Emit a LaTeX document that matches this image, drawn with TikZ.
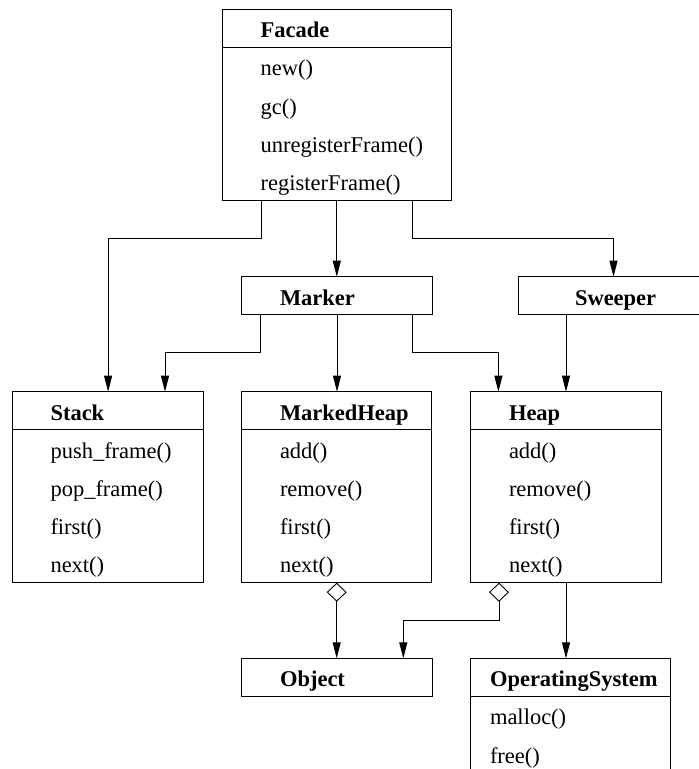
\documentclass[tikz,border=0pt]{standalone}
\usepackage{fontspec}
\setmainfont{Liberation Serif}
\usetikzlibrary{arrows.meta}
\tikzset{
  box/.style={draw, line width=0.9pt, anchor=north west, inner sep=0pt, outer sep=0pt, minimum height=38.2pt},
  lbl/.style={anchor=base west, inner sep=0pt, outer sep=0pt, font=\fontsize{22.5}{27}\selectfont},
  ttl/.style={anchor=base west, inner sep=0pt, outer sep=0pt, font=\fontsize{22.5}{27}\selectfont\bfseries},
  sep/.style={line width=0.9pt},
  arr/.style={draw, line width=0.9pt, -{Triangle[length=16pt,width=8pt]}},
  agg/.style={draw, line width=0.9pt, {Diamond[open,length=19pt,width=20pt]}-{Triangle[length=16pt,width=8pt]}}
}
\begin{document}
\begin{tikzpicture}[x=1pt,y=-1pt]
\useasboundingbox (0,0) rectangle (699,769);
\clip (0,0) rectangle (699,769);

% Facade
\node[box, minimum width=229pt, minimum height=191pt] (facade) at (222.3,9.3) {};
\draw[sep] (222.3,47.5) -- (451.3,47.5);
\node[ttl] (facadeT) at (260.7,37.6) {Facade};
\node[lbl] (facade1) at (260.7,75.8) {new()};
\node[lbl] (facade2) at (260.7,114.0) {gc()};
\node[lbl] (facade3) at (260.7,152.2) {unregisterFrame()};
\node[lbl] (facade4) at (260.7,190.4) {registerFrame()};

% Marker
\node[box, minimum width=190.6pt, minimum height=37.8pt] (marker) at (241.7,276.7) {};
\node[ttl] (markerT) at (280,305) {Marker};

% Sweeper
\node[box, minimum width=191pt, minimum height=37.8pt] (sweeper) at (518,276.7) {};
\node[ttl] (sweeperT) at (575,305) {Sweeper};

% Stack
\node[box, minimum width=191.2pt, minimum height=191pt] (stack) at (12.5,391.7) {};
\draw[sep] (12.5,429.9) -- (203.7,429.9);
\node[ttl] (stackT) at (50.5,420) {Stack};
\node[lbl] (stack1) at (50.5,458.2) {push\_frame()};
\node[lbl] (stack2) at (50.5,496.4) {pop\_frame()};
\node[lbl] (stack3) at (50.5,534.6) {first()};
\node[lbl] (stack4) at (50.5,572.8) {next()};

% MarkedHeap
\node[box, minimum width=190pt, minimum height=191pt] (mheap) at (241.7,391.7) {};
\draw[sep] (241.7,429.9) -- (431.7,429.9);
\node[ttl] (mheapT) at (280,420) {MarkedHeap};
\node[lbl] (mheap1) at (280,458.2) {add()};
\node[lbl] (mheap2) at (280,496.4) {remove()};
\node[lbl] (mheap3) at (280,534.6) {first()};
\node[lbl] (mheap4) at (280,572.8) {next()};

% Heap
\node[box, minimum width=190.4pt, minimum height=191pt] (heap) at (470.8,391.7) {};
\draw[sep] (470.8,429.9) -- (661.2,429.9);
\node[ttl] (heapT) at (509,420) {Heap};
\node[lbl] (heap1) at (509,458.2) {add()};
\node[lbl] (heap2) at (509,496.4) {remove()};
\node[lbl] (heap3) at (509,534.6) {first()};
\node[lbl] (heap4) at (509,572.8) {next()};

% Object
\node[box, minimum width=190.6pt, minimum height=38.2pt] (object) at (241.7,658.3) {};
\node[ttl] (objectT) at (280,686.6) {Object};

% OperatingSystem
\node[box, minimum width=200.7pt, minimum height=114.6pt] (os) at (470,658.3) {};
\draw[sep] (470,696.5) -- (670.7,696.5);
\node[ttl] (osT) at (490,686.6) {OperatingSystem};
\node[lbl] (os1) at (490,724.8) {malloc()};
\node[lbl] (os2) at (490,763) {free()};

% connectors
\draw[arr] ([xshift=38.7pt]facade.south west) -- ++(0,38.5) -| (stack.north);
\draw[arr] (facade.south) -- (facade.south |- marker.north);
\draw[arr] ([xshift=-38.5pt]facade.south east) -- ++(0,38.5) -| (sweeper.north);
\draw[arr] ([xshift=18.7pt]marker.south west) -- ++(0,38.3) -| ([xshift=-38.7pt]stack.north east);
\draw[arr] (marker.south) -- (marker.south |- mheap.north);
\draw[arr] ([xshift=-19.6pt]marker.south east) -- ++(0,38.3) -| ([xshift=27.6pt]heap.north west);
\draw[arr] (heap.north |- sweeper.south) -- (heap.north);
\draw[agg] (mheap.south) -- (mheap.south |- object.north);
\draw[agg] ([xshift=28.2pt]heap.south west) -- ++(0,38) -| ([xshift=-29pt]object.north east);
\draw[arr] (heap.south) -- (heap.south |- os.north);
\end{tikzpicture}
\end{document}
